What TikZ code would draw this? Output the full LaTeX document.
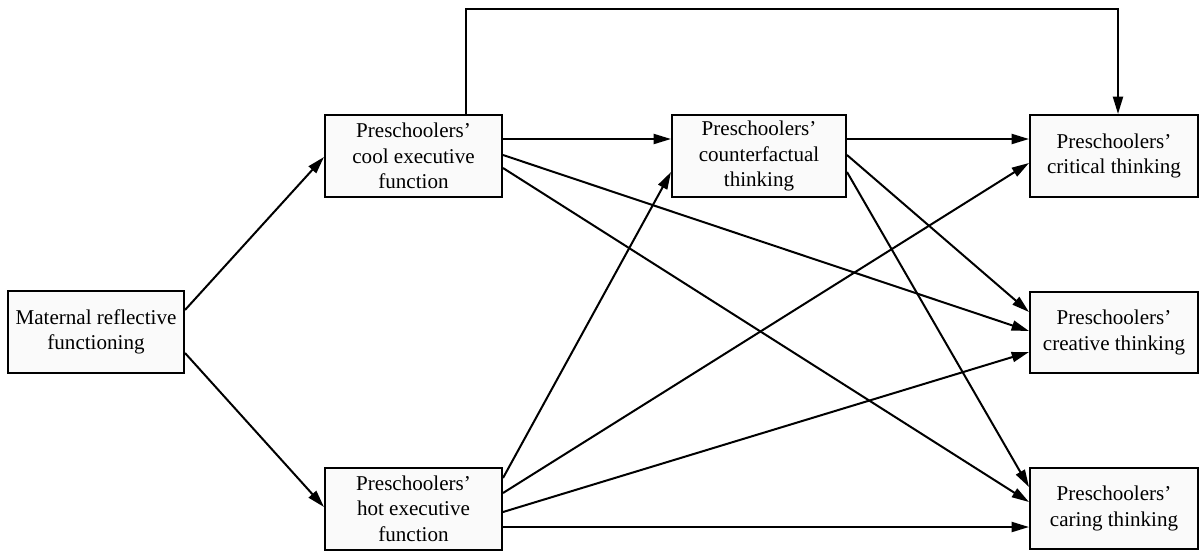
\documentclass[tikz,border=0pt]{standalone}
\usepackage{fontspec}
\setmainfont{Liberation Serif}
\usetikzlibrary{arrows.meta}
\definecolor{boxfill}{HTML}{FAFAFA}
\tikzset{
  box/.style={draw=black, line width=1.5pt, fill=boxfill, rectangle, align=center,
    inner sep=0pt, font=\fontsize{15.8}{19}\selectfont},
  arr/.style={line width=1.5pt, -{Triangle[length=13pt,width=7.5pt]}}
}
\begin{document}
\begin{tikzpicture}[x=0.75pt,y=-0.75pt]
\useasboundingbox (0,0) rectangle (1203,551);
\node[box, minimum width=132pt, minimum height=61pt] (mat) at (96,332) {Maternal reflective\\functioning};
\node[box, minimum width=132.75pt, minimum height=61.5pt] (cool) at (413.5,156) {Preschoolers’\\cool executive\\function};
\node[box, minimum width=132.75pt, minimum height=61.5pt] (hot) at (413.5,508.5) {Preschoolers’\\hot executive\\function};
\node[box, minimum width=130.5pt, minimum height=61.5pt] (cf) at (759,156) {Preschoolers’\\counterfactual\\thinking};
\node[box, minimum width=126pt, minimum height=61.5pt] (crit) at (1114,156) {Preschoolers’\\critical thinking};
\node[box, minimum width=126pt, minimum height=61pt] (crea) at (1114,332.5) {Preschoolers’\\creative thinking};
\node[box, minimum width=126pt, minimum height=61pt] (car) at (1114,508.5) {Preschoolers’\\caring thinking};
\coordinate (t1) at (466,9);
\coordinate (t2) at (1118,9);
% maternal
\draw[arr] (mat.east |- 0,310) -- (cool.west |- 0,157);
\draw[arr] (mat.east |- 0,353) -- (hot.west |- 0,507);
% cool
\draw[arr] (cool.east |- 0,139) -- (cf.west |- 0,139);
\draw[arr] (cool.east |- 0,155) -- (crea.west |- 0,331);
\draw[arr] (cool.east |- 0,168) -- (car.west |- 0,502);
\draw[arr] (cool.north -| t1) -- (t1) -- (t2) -- (crit.north -| t2);
% hot
\draw[arr] (hot.east |- 0,478) -- (cf.west |- 0,172);
\draw[arr] (hot.east |- 0,493) -- (crit.west |- 0,163);
\draw[arr] (hot.east |- 0,512) -- (crea.west |- 0,352);
\draw[arr] (hot.east |- 0,527) -- (car.west |- 0,527);
% counterfactual
\draw[arr] (cf.east |- 0,139) -- (crit.west |- 0,139);
\draw[arr] (cf.east |- 0,155) -- (crea.west |- 0,312);
\draw[arr] (cf.east |- 0,172) -- (car.west |- 0,487);
\end{tikzpicture}
\end{document}
